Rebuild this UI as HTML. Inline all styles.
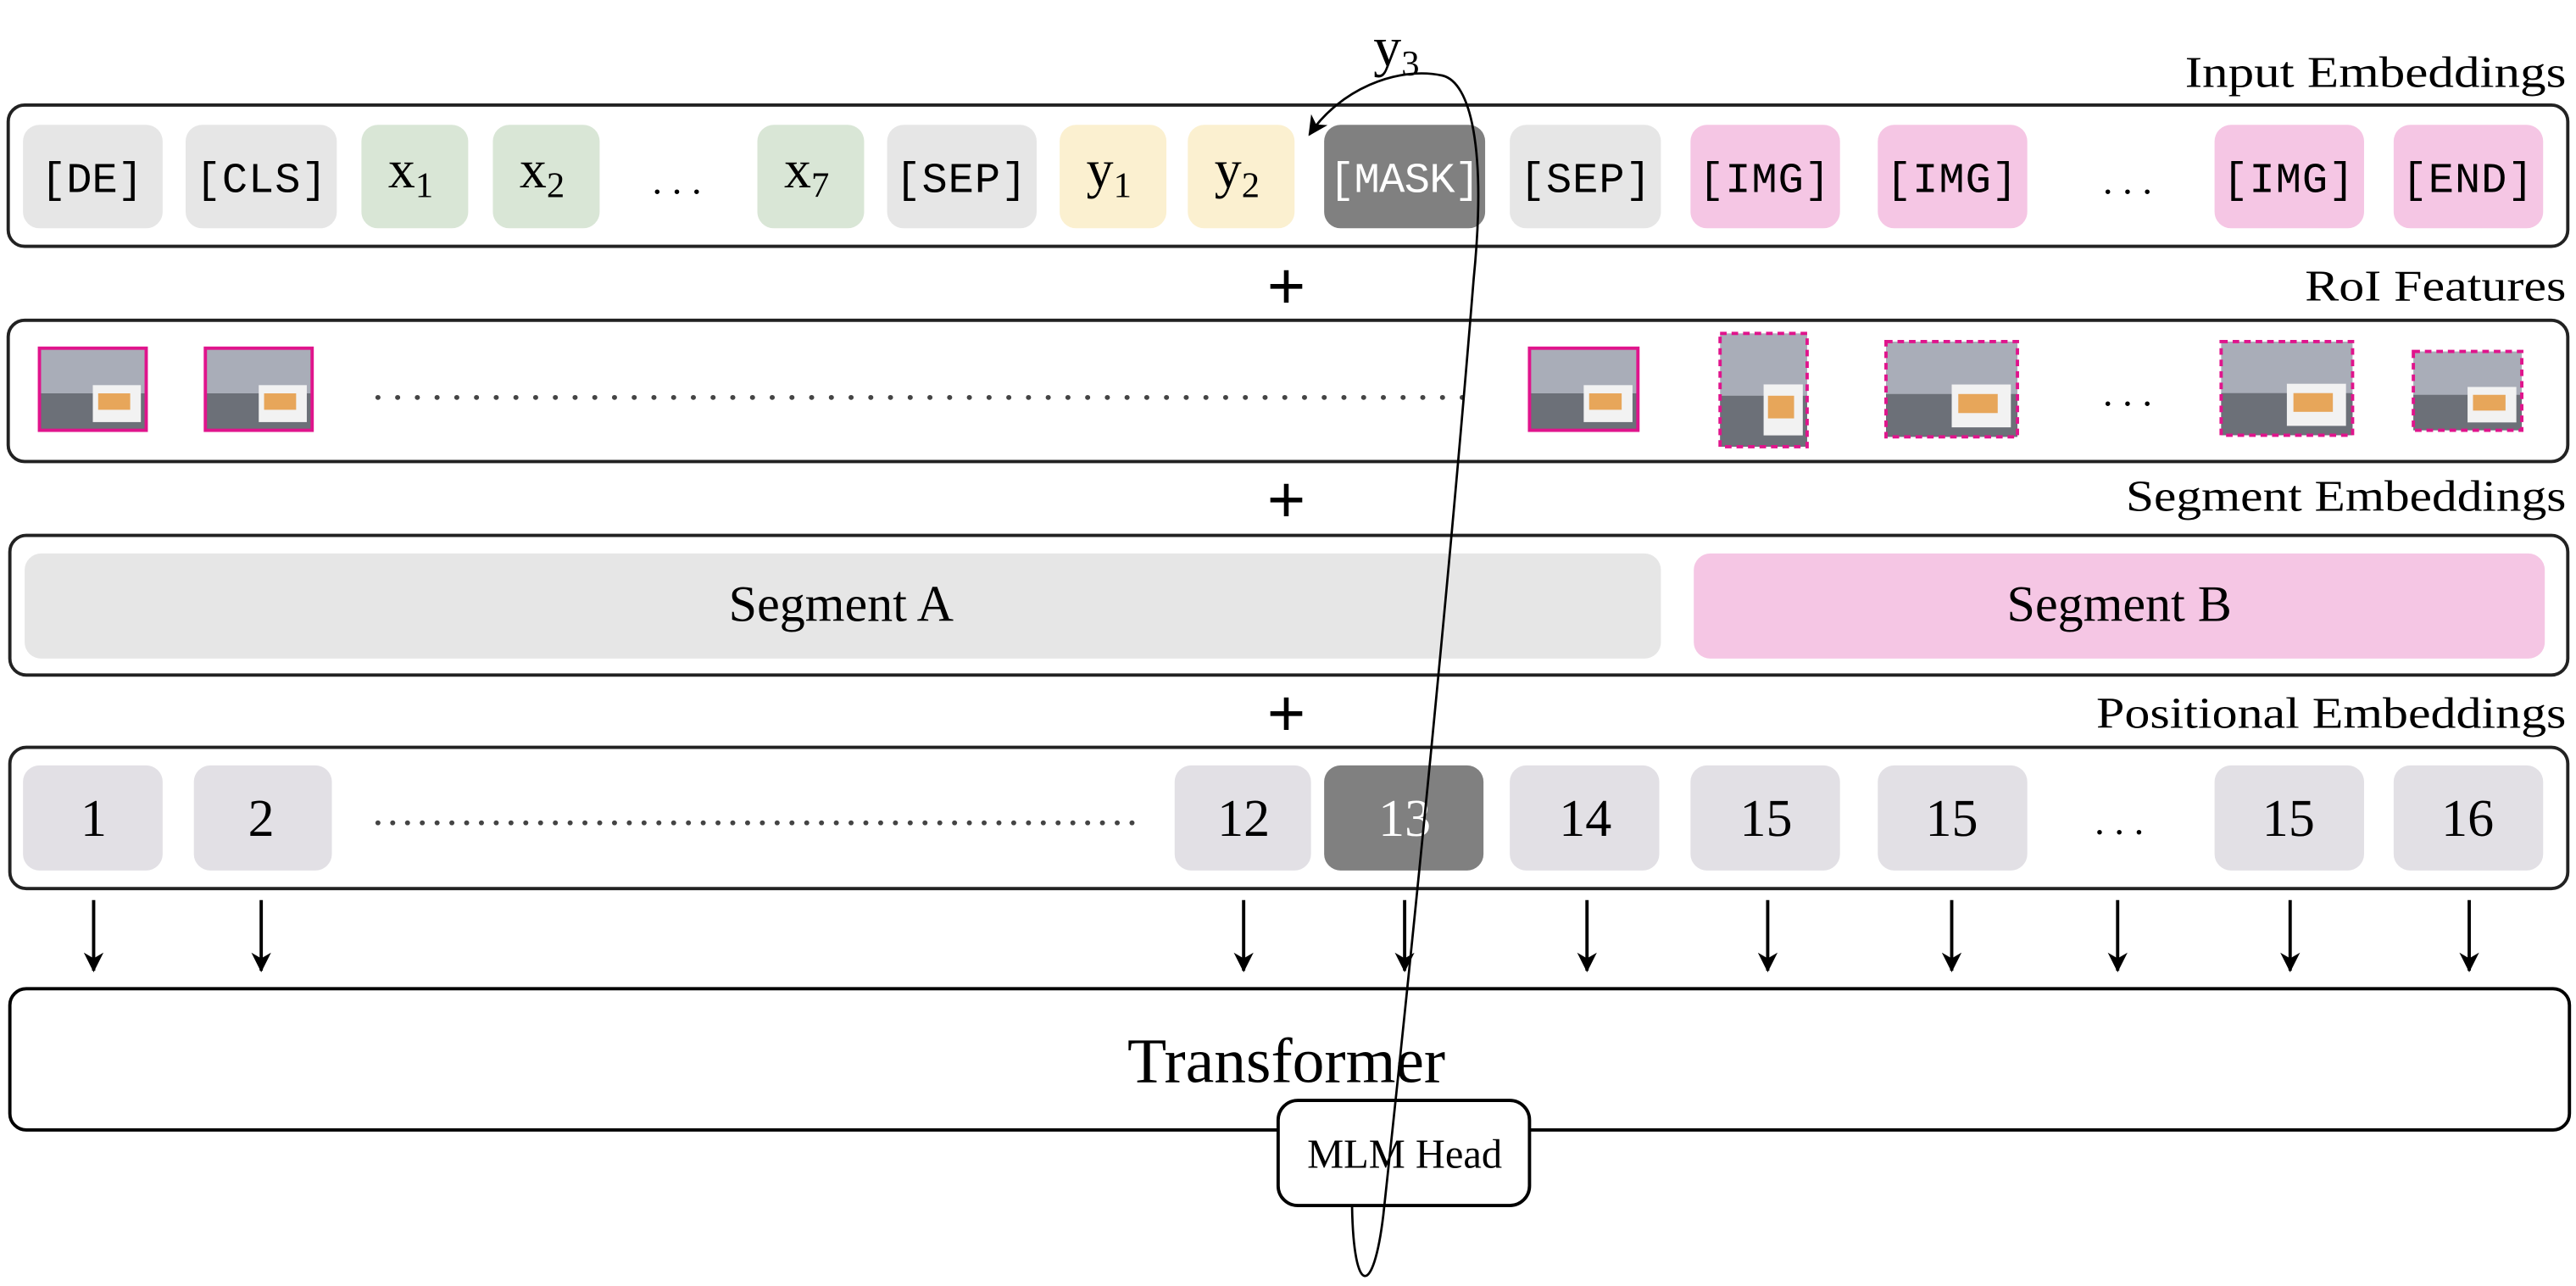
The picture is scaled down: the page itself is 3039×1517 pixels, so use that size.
<!DOCTYPE html>
<html><head><meta charset="utf-8"><style>html,body{margin:0;padding:0;background:#fff}svg{display:block}</style></head>
<body>
<svg width="3039" height="1517" viewBox="0 0 1568 783" preserveAspectRatio="none" xmlns="http://www.w3.org/2000/svg">
<defs>
<marker id="ah" markerWidth="12" markerHeight="12" refX="11" refY="6" orient="auto" markerUnits="userSpaceOnUse"><path d="M0,0 L12,6 L0,12 L3.5,6 Z" fill="#000"/></marker>
<g id="pic"><rect x="0" y="0" width="1" height="1" fill="#a9adb8"/><rect x="0" y="0.55" width="1" height="0.45" fill="#6c7078"/><rect x="0.5" y="0.45" width="0.45" height="0.45" fill="#f2f2f2"/><rect x="0.55" y="0.55" width="0.3" height="0.2" fill="#e7a65a"/></g>
</defs>
<g font-family="Liberation Serif, serif" fill="#000">
<text x="1330" y="53" font-size="27" textLength="232" lengthAdjust="spacingAndGlyphs">Input Embeddings</text>
<text x="1403" y="183" font-size="27" textLength="159" lengthAdjust="spacingAndGlyphs">RoI Features</text>
<text x="1294" y="311" font-size="27" textLength="268" lengthAdjust="spacingAndGlyphs">Segment Embeddings</text>
<text x="1276" y="443" font-size="27" textLength="286" lengthAdjust="spacingAndGlyphs">Positional Embeddings</text>
<text x="836" y="40" font-size="34">y<tspan font-size="22" dy="6">3</tspan></text>
</g>
<g fill="none" stroke="#222" stroke-width="2">
<rect x="5" y="64" width="1558" height="86" rx="10"/>
<rect x="5" y="195" width="1558" height="86" rx="10"/>
<rect x="6" y="326" width="1557" height="85" rx="10"/>
<rect x="6" y="455" width="1557" height="86" rx="10"/>
<rect x="6" y="602" width="1558" height="86" rx="10" stroke="#000"/>
</g>
<g font-family="Liberation Sans, sans-serif" font-size="40" text-anchor="middle">
<text x="783" y="188">+</text><text x="783" y="318">+</text><text x="783" y="448">+</text>
</g>
<g>
<rect x="14" y="76" width="85" height="63" rx="10" fill="#e6e6e6"/>
<rect x="113" y="76" width="92" height="63" rx="10" fill="#e6e6e6"/>
<rect x="220" y="76" width="65" height="63" rx="10" fill="#d9e6d6"/>
<rect x="300" y="76" width="65" height="63" rx="10" fill="#d9e6d6"/>
<rect x="461" y="76" width="65" height="63" rx="10" fill="#d9e6d6"/>
<rect x="540" y="76" width="91" height="63" rx="10" fill="#e6e6e6"/>
<rect x="645" y="76" width="65" height="63" rx="10" fill="#fbf0d0"/>
<rect x="723" y="76" width="65" height="63" rx="10" fill="#fbf0d0"/>
<rect x="806" y="76" width="98" height="63" rx="10" fill="#808080"/>
<rect x="919" y="76" width="92" height="63" rx="10" fill="#e6e6e6"/>
<rect x="1029" y="76" width="91" height="63" rx="10" fill="#f5c6e4"/>
<rect x="1143" y="76" width="91" height="63" rx="10" fill="#f5c6e4"/>
<rect x="1348" y="76" width="91" height="63" rx="10" fill="#f5c6e4"/>
<rect x="1457" y="76" width="91" height="63" rx="10" fill="#f5c6e4"/>
</g>
<g font-family="Liberation Mono, monospace" font-size="26" text-anchor="middle">
<text x="56" y="117">[DE]</text><text x="159" y="117" textLength="80">[CLS]</text>
<text x="585" y="117" textLength="80">[SEP]</text><text x="855" y="117" fill="#fff" textLength="92">[MASK]</text>
<text x="965" y="117" textLength="80">[SEP]</text><text x="1074" y="117" textLength="80">[IMG]</text><text x="1188" y="117" textLength="80">[IMG]</text>
<text x="1393" y="117" textLength="80">[IMG]</text><text x="1502" y="117" textLength="80">[END]</text>
</g>
<g font-family="Liberation Serif, serif" font-size="33" text-anchor="middle">
<text x="250" y="114">x<tspan font-size="22" dy="6">1</tspan></text>
<text x="330" y="114">x<tspan font-size="22" dy="6">2</tspan></text>
<text x="491" y="114">x<tspan font-size="22" dy="6">7</tspan></text>
<text x="675" y="114">y<tspan font-size="22" dy="6">1</tspan></text>
<text x="753" y="114">y<tspan font-size="22" dy="6">2</tspan></text>
<text x="412" y="118" font-size="24">. . .</text>
<text x="1295" y="118" font-size="24">. . .</text>
</g>
<g>
<use href="#pic" transform="translate(24,212) scale(65,50)"/>
<use href="#pic" transform="translate(125,212) scale(65,50)"/>
<use href="#pic" transform="translate(931,212) scale(66,50)"/>
<use href="#pic" transform="translate(1047,203) scale(53,69)"/>
<use href="#pic" transform="translate(1148,208) scale(80,58)"/>
<use href="#pic" transform="translate(1352,208) scale(80,57)"/>
<use href="#pic" transform="translate(1469,214) scale(66,48)"/>
</g>
<g fill="none" stroke="#e0148c" stroke-width="2">
<rect x="24" y="212" width="65" height="50"/><rect x="125" y="212" width="65" height="50"/><rect x="931" y="212" width="66" height="50"/>
<g stroke-dasharray="4,3"><rect x="1047" y="203" width="53" height="69"/><rect x="1148" y="208" width="80" height="58"/><rect x="1352" y="208" width="80" height="57"/><rect x="1469" y="214" width="66" height="48"/></g>
</g>
<line x1="230" y1="242" x2="895" y2="242" stroke="#444" stroke-width="3" stroke-dasharray="0.1,11.9" stroke-linecap="round"/>
<text x="1295" y="247" font-family="Liberation Serif, serif" font-size="24" text-anchor="middle">. . .</text>
<rect x="15" y="337" width="996" height="64" rx="10" fill="#e6e6e6"/>
<rect x="1031" y="337" width="518" height="64" rx="10" fill="#f5c6e4"/>
<g font-family="Liberation Serif, serif" font-size="31" text-anchor="middle">
<text x="512" y="378">Segment A</text><text x="1290" y="378">Segment B</text>
</g>
<g fill="#e2e0e5">
<rect x="14" y="466" width="85" height="64" rx="10"/><rect x="118" y="466" width="84" height="64" rx="10"/>
<rect x="715" y="466" width="83" height="64" rx="10"/><rect x="806" y="466" width="97" height="64" rx="10" fill="#808080"/>
<rect x="919" y="466" width="91" height="64" rx="10"/><rect x="1029" y="466" width="91" height="64" rx="10"/>
<rect x="1143" y="466" width="91" height="64" rx="10"/><rect x="1348" y="466" width="91" height="64" rx="10"/>
<rect x="1457" y="466" width="91" height="64" rx="10"/>
</g>
<g font-family="Liberation Serif, serif" font-size="32" text-anchor="middle">
<text x="57" y="509">1</text><text x="159" y="509">2</text><text x="757" y="509">12</text>
<text x="855" y="509" fill="#fff">13</text><text x="965" y="509">14</text><text x="1075" y="509">15</text>
<text x="1188" y="509">15</text><text x="1393" y="509">15</text><text x="1502" y="509">16</text>
<text x="1290" y="508" font-size="24">. . .</text>
</g>
<line x1="230" y1="501" x2="693" y2="501" stroke="#444" stroke-width="3" stroke-dasharray="0.1,8.9" stroke-linecap="round"/>
<g stroke="#000" stroke-width="2" marker-end="url(#ah)">
<line x1="57" y1="548" x2="57" y2="591"/><line x1="159" y1="548" x2="159" y2="591"/>
<line x1="757" y1="548" x2="757" y2="591"/><line x1="855" y1="548" x2="855" y2="591"/>
<line x1="966" y1="548" x2="966" y2="591"/><line x1="1076" y1="548" x2="1076" y2="591"/>
<line x1="1188" y1="548" x2="1188" y2="591"/><line x1="1289" y1="548" x2="1289" y2="591"/>
<line x1="1394" y1="548" x2="1394" y2="591"/><line x1="1503" y1="548" x2="1503" y2="591"/>
</g>
<text x="783" y="659" font-family="Liberation Serif, serif" font-size="39" text-anchor="middle">Transformer</text>
<rect x="778" y="670" width="153" height="64" rx="12" fill="#fff" stroke="#000" stroke-width="2"/>
<text x="855" y="711" font-family="Liberation Serif, serif" font-size="25" text-anchor="middle">MLM Head</text>
<path d="M823,735 C824,790 836,790 842,740 C855,620 880,380 897,170 C905,90 895,50 878,46 C850,40 815,55 797,82" fill="none" stroke="#000" stroke-width="1.4" marker-end="url(#ah)"/>
</svg>
</body></html>
